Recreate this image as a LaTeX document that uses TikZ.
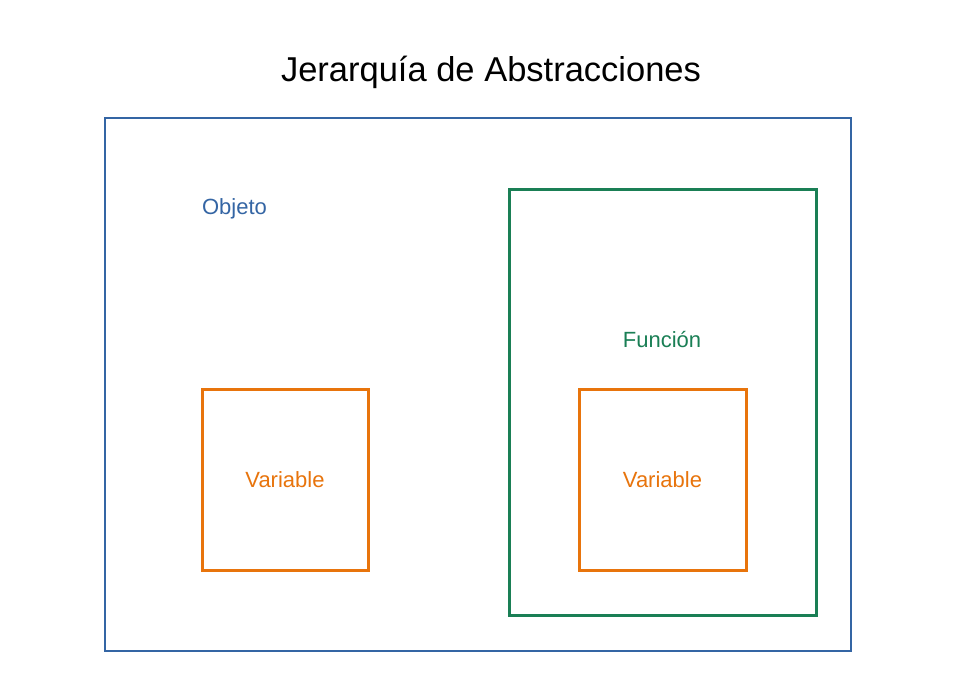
\documentclass[tikz,border=0pt]{standalone}
\usepackage{fontspec}
\setmainfont{Liberation Sans}
\definecolor{cblue}{HTML}{3465A4}
\definecolor{cgreen}{HTML}{1A7F55}
\definecolor{corange}{HTML}{E8740C}
\begin{document}
\begin{tikzpicture}[x=1pt,y=-1pt,
  box/.style={draw, rectangle, inner sep=0pt, outer sep=0pt},
  lbl/.style={font=\fontsize{22}{26}\selectfont, inner sep=0pt}]
\useasboundingbox[fill=white] (0,0) rectangle (972,687);
\node[lbl, font=\fontsize{34.5}{40}\selectfont] (title) at (491,72) {Jerarquía de Abstracciones};
\node[box, draw=cblue, line width=2.6pt, minimum width=746pt, minimum height=533pt] (obj) at (478,384.5) {};
\node[box, draw=cgreen, line width=3pt, minimum width=307pt, minimum height=425pt] (fun) at (662.5,402.5) {};
\node[box, draw=corange, line width=3pt, minimum width=166pt, minimum height=181pt] (var1) at (285,479.5) {};
\node[box, draw=corange, line width=3pt, minimum width=167pt, minimum height=181pt] (var2) at (662.5,479.5) {};
\node[lbl, text=cblue] (objl) at (234.5,208.5) {Objeto};
\node[lbl, text=cgreen] (funl) at (662,339.5) {Función};
\node[lbl, text=corange] (v1l) at (285,479.5) {Variable};
\node[lbl, text=corange] (v2l) at (662.5,479.5) {Variable};
\end{tikzpicture}
\end{document}
